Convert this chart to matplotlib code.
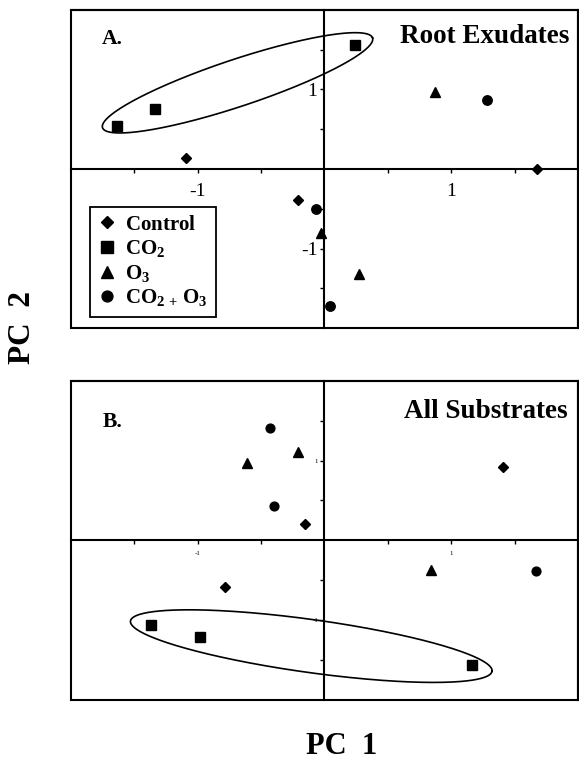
import numpy as np
import matplotlib
matplotlib.use("Agg")
import matplotlib.pyplot as plt
from matplotlib.ticker import FixedLocator, FixedFormatter
from matplotlib.patches import Rectangle

plt.rcParams['font.family'] = ['Liberation Serif', 'DejaVu Serif']
plt.rcParams['mathtext.fontset'] = 'custom'
plt.rcParams['mathtext.rm'] = 'Liberation Serif:bold'
plt.rcParams['mathtext.bf'] = 'Liberation Serif:bold'
plt.rcParams['mathtext.it'] = 'Liberation Serif:bold'
plt.rcParams['axes.unicode_minus'] = False

# ---- data ----
groups = ['Control', 'CO2', 'O3', 'CO2+O3']
legend_labels = [r'$\mathbf{Control}$', r'$\mathbf{CO_2}$', r'$\mathbf{O_3}$', r'$\mathbf{CO_{2\,+}\,O_3}$']

A_control_x = [-1.095, -0.209, 1.674]
A_control_y = [0.138, -0.388, 0.0]
A_co2_x = [-1.635, -1.338, 0.243]
A_co2_y = [0.542, 0.754, 1.563]
A_o3_x = [0.874, -0.026, 0.269]
A_o3_y = [0.97, -0.81, -1.325]
A_both_x = [1.278, -0.070, 0.047]
A_both_y = [0.867, -0.5, -1.729]

B_control_x = [-0.157, 1.408, -0.783]
B_control_y = [0.204, 0.917, -0.583]
B_co2_x = [-1.369, -0.982, 1.162]
B_co2_y = [-1.058, -1.208, -1.567]
B_o3_x = [-0.607, -0.212, 0.840]
B_o3_y = [0.967, 1.1125, -0.375]
B_both_x = [-0.429, -0.398, 1.665]
B_both_y = [1.404, 0.425, -0.379]

tick_pos = [-1.5, -1, -0.5, 0.5, 1, 1.5]
tick_lab = ['', '-1', '', '', '1', '']

# ellipse: centre (data), semi-axes (px), angle (deg)
ellA = dict(c=(-0.685, 1.084), a=142.3, b=23.5, ang=18.4)
ellB = dict(c=(-0.104, -1.325), a=182.5, b=26.5, ang=-7.9)

markers = ['D', 's', '^', 'o']
msizes = [5.0, 7.0, 7.5, 6.8]

W, H = 579, 763
fig = plt.figure(figsize=(W/100, H/100), dpi=100)

def make_ax(rect, tick_fs, xpad, ypad):
    ax = fig.add_axes(rect)
    ax.set_xlim(-2, 2)
    ax.set_ylim(-2, 2)
    for s in ['left', 'bottom']:
        ax.spines[s].set_position(('data', 0))
    for s in ax.spines.values():
        s.set_linewidth(1.5)
    ax.add_patch(Rectangle((0, 0), 1, 1, transform=ax.transAxes, fill=False,
                           lw=1.5, ec='black', clip_on=False, zorder=5))
    ax.xaxis.set_major_locator(FixedLocator(tick_pos))
    ax.xaxis.set_major_formatter(FixedFormatter(tick_lab))
    ax.yaxis.set_major_locator(FixedLocator(tick_pos))
    ax.yaxis.set_major_formatter(FixedFormatter(tick_lab))
    ax.tick_params(axis='x', direction='out', length=3, width=1, labelsize=tick_fs, pad=xpad)
    ax.tick_params(axis='y', direction='out', length=3, width=1, labelsize=tick_fs, pad=ypad)
    return ax

def draw_ellipse(ax, e):
    bbox = ax.get_position()
    sx = bbox.width * W / 4.0
    sy = bbox.height * H / 4.0
    t = np.linspace(0, 2*np.pi, 400)
    th = np.deg2rad(e['ang'])
    px = e['a']*np.cos(t)*np.cos(th) - e['b']*np.sin(t)*np.sin(th)
    py = e['a']*np.cos(t)*np.sin(th) + e['b']*np.sin(t)*np.cos(th)
    ax.plot(e['c'][0] + px/sx, e['c'][1] + py/sy, color='black', lw=1.2, zorder=3)

axA = make_ax([70.7/W, 1-328/H, 507.5/W, 318/H], 14, 7, 2)
axB = make_ax([70.7/W, 1-700/H, 507.5/W, 319.3/H], 5, 5, 1.5)

A_sets = [(A_control_x, A_control_y), (A_co2_x, A_co2_y), (A_o3_x, A_o3_y), (A_both_x, A_both_y)]
B_sets = [(B_control_x, B_control_y), (B_co2_x, B_co2_y), (B_o3_x, B_o3_y), (B_both_x, B_both_y)]

handles = []
for (xs, ys), m, ms, lab in zip(A_sets, markers, msizes, legend_labels):
    h, = axA.plot(xs, ys, linestyle='none', marker=m, markersize=ms, color='black', label=lab, zorder=4)
    handles.append(h)
for (xs, ys), m, ms in zip(B_sets, markers, msizes):
    axB.plot(xs, ys, linestyle='none', marker=m, markersize=ms*0.93, color='black', zorder=4)

draw_ellipse(axA, ellA)
draw_ellipse(axB, ellB)

leg = axA.legend(handles=handles, loc='lower left', bbox_to_anchor=(0.039, 0.0355),
                 borderaxespad=0, fontsize=15, frameon=True, fancybox=False,
                 edgecolor='black', framealpha=1, labelspacing=0.17,
                 handlelength=0.8, handletextpad=0.45, borderpad=0.4, markerscale=1.15)
leg.get_frame().set_linewidth(1.3)

axA.text(0.061, 0.893, 'A.', transform=axA.transAxes, fontsize=15.5, fontweight='bold', ha='left', va='baseline')
axA.text(0.983, 0.897, 'Root Exudates', transform=axA.transAxes, fontsize=19.5, fontweight='bold', ha='right', va='baseline')
axB.text(0.064, 0.856, 'B.', transform=axB.transAxes, fontsize=15.5, fontweight='bold', ha='left', va='baseline')
axB.text(0.98, 0.882, 'All Substrates', transform=axB.transAxes, fontsize=19.5, fontweight='bold', ha='right', va='baseline')

fig.text(341.7/W, 1-754/H, 'PC  1', fontsize=22, fontweight='bold', ha='center', va='baseline')
fig.text(23/W, 1-327/H, 'PC  2', fontsize=22.5, fontweight='bold', ha='center', va='center', rotation=90)

fig.savefig('out.png', dpi=100)
